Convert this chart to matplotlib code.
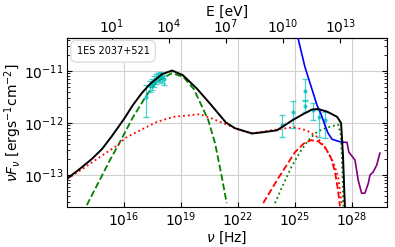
import numpy as np
import matplotlib
matplotlib.use("Agg")
import matplotlib.pyplot as plt

# log10(nu [Hz]) / log10(nuFnu [erg s-1 cm-2])
total_lognu = [13.03, 13.71, 14.34, 14.87, 15.39, 16.03, 16.50, 16.97, 17.39, 18.02, 18.55, 19.12,
               19.86, 20.60, 21.38, 21.86, 22.75, 23.27, 24.06, 24.90, 25.43, 25.90,
               26.22, 26.69, 27.22, 27.43, 27.53, 27.63]
total_logf = [-13.07, -12.88, -12.69, -12.50, -12.25, -11.92, -11.65, -11.42, -11.25, -11.06, -10.99, -11.08,
              -11.34, -11.65, -11.99, -12.10, -12.20, -12.18, -12.14, -11.94, -11.83, -11.74,
              -11.73, -11.78, -11.88, -12.00, -12.62, -13.60]

syn1_lognu = [14.07, 15.29, 15.73, 16.51, 17.22, 17.74, 18.53, 19.14, 19.70, 20.45,
              20.81, 21.16, 21.42]
syn1_logf = [-13.58, -12.71, -12.42, -11.88, -11.46, -11.21, -11.04, -11.11, -11.35, -11.94,
             -12.39, -13.03, -13.54]

ssc1_lognu = [23.96, 24.38, 24.83, 25.27, 25.71, 26.16, 26.67, 27.28, 27.42, 27.50, 27.55]
ssc1_logf = [-13.54, -13.19, -12.84, -12.56, -12.33, -12.17, -12.09, -12.03, -12.23, -12.90, -13.60]

comp2_lognu = [13.03, 13.98, 14.77, 15.71, 16.08, 16.87, 17.74, 18.62, 19.49, 20.02,
               20.63, 21.49, 22.12, 22.73, 23.78, 24.92, 25.62, 26.15, 26.67, 27.02,
               27.28, 27.46]
comp2_logf = [-13.08, -12.85, -12.65, -12.42, -12.29, -12.14, -11.98, -11.88, -11.85, -11.83,
              -11.91, -12.04, -12.14, -12.20, -12.14, -12.08, -12.14, -12.26, -12.52, -12.75,
              -13.04, -13.54]

ssc2_lognu = [23.34, 24.13, 25.01, 25.48, 25.85, 26.22, 26.58, 26.90, 27.11, 27.27, 27.37]
ssc2_logf = [-13.54, -13.06, -12.56, -12.39, -12.33, -12.35, -12.46, -12.67, -12.94, -13.29, -13.60]

cta_lognu = [25.06, 25.17, 25.53, 26.16, 26.38, 26.58, 26.74, 26.95, 27.27, 27.53]
cta_logf = [-10.21, -10.37, -10.92, -11.65, -11.83, -12.04, -12.19, -12.31, -12.35, -12.37]

lhaaso_lognu = [27.53, 27.74, 27.84, 28.16, 28.33, 28.51, 28.68, 28.86, 28.95, 29.12, 29.30, 29.47]
lhaaso_logf = [-12.37, -12.37, -12.56, -12.71, -13.10, -13.35, -13.35, -13.16, -13.00, -12.94, -12.81, -12.58]

# observed points
xray_lognu = [17.17, 17.39, 17.49, 17.60, 17.71, 17.81, 17.92, 18.02, 18.13]
xray_logf = [-11.49, -11.29, -11.25, -11.19, -11.15, -11.12, -11.10, -11.12, -11.15]
xray_lo = [-11.88, -11.40, -11.36, -11.30, -11.25, -11.22, -11.20, -11.23, -11.26]
xray_hi = [-11.27, -11.20, -11.16, -11.10, -11.06, -11.03, -11.02, -11.04, -11.07]

gam_lognu = [24.31, 24.92, 25.56, 25.56, 25.97, 26.28, 26.58]
gam_logf = [-12.04, -11.78, -11.38, -11.67, -11.75, -11.88, -11.94]
gam_lo = [-12.26, -12.10, -11.58, -11.79, -11.94, -12.26, -12.29]
gam_hi = [-11.85, -11.57, -11.15, -11.56, -11.62, -11.75, -11.79]

h_ev = 4.135667e-15  # eV s
fs = 10


def p(a):
    return np.power(10.0, np.array(a))


fig = plt.figure(figsize=(3.95, 2.47), dpi=100)
ax = fig.add_axes([0.1696, 0.163, 0.81, 0.684])

ax.plot(p(total_lognu), p(total_logf), color="black", lw=1.4, zorder=5)
ax.plot(p(syn1_lognu), p(syn1_logf), color="green", ls="--", lw=1.3)
ax.plot(p(ssc1_lognu), p(ssc1_logf), color="green", ls=":", lw=1.3)
ax.plot(p(comp2_lognu), p(comp2_logf), color="red", ls=":", lw=1.3)
ax.plot(p(ssc2_lognu), p(ssc2_logf), color="red", ls="--", lw=1.3)
ax.plot(p(cta_lognu), p(cta_logf), color="blue", lw=1.2, zorder=4)
ax.plot(p(lhaaso_lognu), p(lhaaso_logf), color="purple", lw=1.2)

for lnu, lf, lo, hi in [(xray_lognu, xray_logf, xray_lo, xray_hi),
                        (gam_lognu, gam_logf, gam_lo, gam_hi)]:
    y = p(lf)
    ax.errorbar(p(lnu), y, yerr=[y - p(lo), p(hi) - y], fmt="o", ms=2,
                color="c", alpha=0.7, elinewidth=0.9, capsize=2, zorder=3)

ax.set_xscale("log")
ax.set_yscale("log")
ax.set_xlim(10**13.03, 10**29.84)
ax.set_ylim(10**-13.61, 10**-10.36)
ax.set_xticks([1e16, 1e19, 1e22, 1e25, 1e28])
ax.xaxis.set_minor_locator(matplotlib.ticker.NullLocator())
ax.grid(True, which="major", color="#d0d0d0", lw=0.8)
ax.tick_params(which="both", direction="in", right=True, labelsize=fs, pad=2.5)
ax.set_xlabel(r"$\nu$ [Hz]", fontsize=fs, labelpad=1)
ax.set_ylabel(r"$\nu F_\nu$ [$\rm erg s^{-1} cm^{-2}$]", fontsize=fs, labelpad=0)

sec = ax.secondary_xaxis("top", functions=(lambda nu: nu * h_ev, lambda e: e / h_ev))
sec.set_xticks([1e1, 1e4, 1e7, 1e10, 1e13])
sec.xaxis.set_minor_locator(matplotlib.ticker.NullLocator())
sec.tick_params(direction="in", labelsize=fs, pad=1.5)
sec.set_xlabel("E [eV]", fontsize=fs, labelpad=1)

ax.text(0.03, 0.92, "1ES 2037+521", transform=ax.transAxes, fontsize=7,
        va="center", ha="left",
        bbox=dict(boxstyle="round,pad=0.6", facecolor="white", edgecolor="#dddddd"))

fig.savefig("out.png", dpi=100)
